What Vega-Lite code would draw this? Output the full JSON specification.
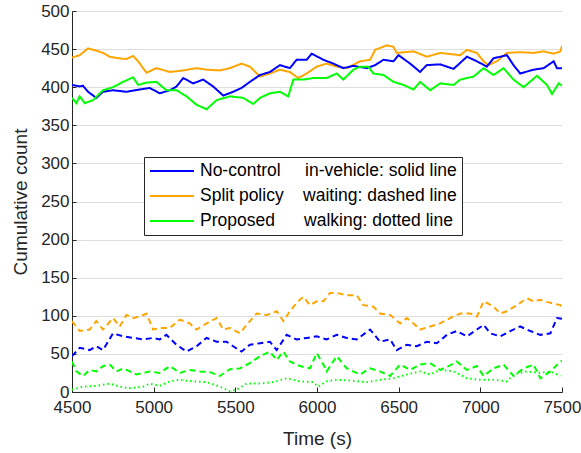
{
  "$schema": "https://vega.github.io/schema/vega-lite/v6.json",
  "autosize": {"type": "none"},
  "padding": {"left": 72, "top": 11, "right": 19, "bottom": 61},
  "width": 490,
  "height": 381,
  "background": "white",
  "config": {"view": {"stroke": null}, "font": "Liberation Sans"},
  "data": {"values": [
    {"t":4500,"v":439,"p":"Split policy","k":"in-vehicle"},{"t":4547,"v":442,"p":"Split policy","k":"in-vehicle"},{"t":4598,"v":451,"p":"Split policy","k":"in-vehicle"},{"t":4649,"v":448,"p":"Split policy","k":"in-vehicle"},{"t":4690,"v":445,"p":"Split policy","k":"in-vehicle"},{"t":4731,"v":440,"p":"Split policy","k":"in-vehicle"},{"t":4782,"v":438,"p":"Split policy","k":"in-vehicle"},{"t":4833,"v":437,"p":"Split policy","k":"in-vehicle"},{"t":4874,"v":441,"p":"Split policy","k":"in-vehicle"},{"t":4905,"v":434,"p":"Split policy","k":"in-vehicle"},{"t":4956,"v":419,"p":"Split policy","k":"in-vehicle"},{"t":5017,"v":425,"p":"Split policy","k":"in-vehicle"},{"t":5099,"v":420,"p":"Split policy","k":"in-vehicle"},{"t":5181,"v":422,"p":"Split policy","k":"in-vehicle"},{"t":5262,"v":425,"p":"Split policy","k":"in-vehicle"},{"t":5324,"v":423,"p":"Split policy","k":"in-vehicle"},{"t":5405,"v":422,"p":"Split policy","k":"in-vehicle"},{"t":5467,"v":425,"p":"Split policy","k":"in-vehicle"},{"t":5538,"v":431,"p":"Split policy","k":"in-vehicle"},{"t":5589,"v":427,"p":"Split policy","k":"in-vehicle"},{"t":5651,"v":414,"p":"Split policy","k":"in-vehicle"},{"t":5712,"v":418,"p":"Split policy","k":"in-vehicle"},{"t":5773,"v":423,"p":"Split policy","k":"in-vehicle"},{"t":5834,"v":420,"p":"Split policy","k":"in-vehicle"},{"t":5885,"v":412,"p":"Split policy","k":"in-vehicle"},{"t":5937,"v":418,"p":"Split policy","k":"in-vehicle"},{"t":5998,"v":427,"p":"Split policy","k":"in-vehicle"},{"t":6059,"v":431,"p":"Split policy","k":"in-vehicle"},{"t":6121,"v":427,"p":"Split policy","k":"in-vehicle"},{"t":6182,"v":425,"p":"Split policy","k":"in-vehicle"},{"t":6264,"v":434,"p":"Split policy","k":"in-vehicle"},{"t":6325,"v":436,"p":"Split policy","k":"in-vehicle"},{"t":6356,"v":449,"p":"Split policy","k":"in-vehicle"},{"t":6427,"v":455,"p":"Split policy","k":"in-vehicle"},{"t":6468,"v":453,"p":"Split policy","k":"in-vehicle"},{"t":6488,"v":445,"p":"Split policy","k":"in-vehicle"},{"t":6591,"v":447,"p":"Split policy","k":"in-vehicle"},{"t":6672,"v":440,"p":"Split policy","k":"in-vehicle"},{"t":6754,"v":445,"p":"Split policy","k":"in-vehicle"},{"t":6877,"v":442,"p":"Split policy","k":"in-vehicle"},{"t":6918,"v":449,"p":"Split policy","k":"in-vehicle"},{"t":6979,"v":445,"p":"Split policy","k":"in-vehicle"},{"t":7020,"v":434,"p":"Split policy","k":"in-vehicle"},{"t":7050,"v":429,"p":"Split policy","k":"in-vehicle"},{"t":7101,"v":434,"p":"Split policy","k":"in-vehicle"},{"t":7163,"v":445,"p":"Split policy","k":"in-vehicle"},{"t":7244,"v":446,"p":"Split policy","k":"in-vehicle"},{"t":7326,"v":445,"p":"Split policy","k":"in-vehicle"},{"t":7388,"v":447,"p":"Split policy","k":"in-vehicle"},{"t":7449,"v":444,"p":"Split policy","k":"in-vehicle"},{"t":7490,"v":447,"p":"Split policy","k":"in-vehicle"},{"t":7500,"v":454,"p":"Split policy","k":"in-vehicle"},

    {"t":4500,"v":403,"p":"No-control","k":"in-vehicle"},{"t":4547,"v":401,"p":"No-control","k":"in-vehicle"},{"t":4567,"v":402,"p":"No-control","k":"in-vehicle"},{"t":4598,"v":394,"p":"No-control","k":"in-vehicle"},{"t":4649,"v":386,"p":"No-control","k":"in-vehicle"},{"t":4690,"v":394,"p":"No-control","k":"in-vehicle"},{"t":4751,"v":396,"p":"No-control","k":"in-vehicle"},{"t":4833,"v":394,"p":"No-control","k":"in-vehicle"},{"t":4915,"v":397,"p":"No-control","k":"in-vehicle"},{"t":4976,"v":399,"p":"No-control","k":"in-vehicle"},{"t":5037,"v":392,"p":"No-control","k":"in-vehicle"},{"t":5099,"v":396,"p":"No-control","k":"in-vehicle"},{"t":5140,"v":401,"p":"No-control","k":"in-vehicle"},{"t":5181,"v":412,"p":"No-control","k":"in-vehicle"},{"t":5242,"v":405,"p":"No-control","k":"in-vehicle"},{"t":5303,"v":410,"p":"No-control","k":"in-vehicle"},{"t":5364,"v":401,"p":"No-control","k":"in-vehicle"},{"t":5426,"v":389,"p":"No-control","k":"in-vehicle"},{"t":5487,"v":394,"p":"No-control","k":"in-vehicle"},{"t":5538,"v":399,"p":"No-control","k":"in-vehicle"},{"t":5589,"v":407,"p":"No-control","k":"in-vehicle"},{"t":5651,"v":416,"p":"No-control","k":"in-vehicle"},{"t":5712,"v":420,"p":"No-control","k":"in-vehicle"},{"t":5773,"v":429,"p":"No-control","k":"in-vehicle"},{"t":5834,"v":425,"p":"No-control","k":"in-vehicle"},{"t":5875,"v":436,"p":"No-control","k":"in-vehicle"},{"t":5937,"v":436,"p":"No-control","k":"in-vehicle"},{"t":5967,"v":444,"p":"No-control","k":"in-vehicle"},{"t":6039,"v":436,"p":"No-control","k":"in-vehicle"},{"t":6100,"v":431,"p":"No-control","k":"in-vehicle"},{"t":6161,"v":425,"p":"No-control","k":"in-vehicle"},{"t":6223,"v":428,"p":"No-control","k":"in-vehicle"},{"t":6305,"v":425,"p":"No-control","k":"in-vehicle"},{"t":6356,"v":429,"p":"No-control","k":"in-vehicle"},{"t":6407,"v":436,"p":"No-control","k":"in-vehicle"},{"t":6468,"v":434,"p":"No-control","k":"in-vehicle"},{"t":6499,"v":442,"p":"No-control","k":"in-vehicle"},{"t":6570,"v":431,"p":"No-control","k":"in-vehicle"},{"t":6631,"v":420,"p":"No-control","k":"in-vehicle"},{"t":6672,"v":429,"p":"No-control","k":"in-vehicle"},{"t":6754,"v":430,"p":"No-control","k":"in-vehicle"},{"t":6836,"v":424,"p":"No-control","k":"in-vehicle"},{"t":6918,"v":440,"p":"No-control","k":"in-vehicle"},{"t":6979,"v":434,"p":"No-control","k":"in-vehicle"},{"t":7040,"v":427,"p":"No-control","k":"in-vehicle"},{"t":7081,"v":438,"p":"No-control","k":"in-vehicle"},{"t":7163,"v":442,"p":"No-control","k":"in-vehicle"},{"t":7203,"v":429,"p":"No-control","k":"in-vehicle"},{"t":7244,"v":418,"p":"No-control","k":"in-vehicle"},{"t":7326,"v":423,"p":"No-control","k":"in-vehicle"},{"t":7388,"v":425,"p":"No-control","k":"in-vehicle"},{"t":7449,"v":434,"p":"No-control","k":"in-vehicle"},{"t":7469,"v":425,"p":"No-control","k":"in-vehicle"},{"t":7500,"v":425,"p":"No-control","k":"in-vehicle"},

    {"t":4500,"v":386,"p":"Proposed","k":"in-vehicle"},{"t":4527,"v":379,"p":"Proposed","k":"in-vehicle"},{"t":4547,"v":388,"p":"Proposed","k":"in-vehicle"},{"t":4578,"v":379,"p":"Proposed","k":"in-vehicle"},{"t":4629,"v":383,"p":"Proposed","k":"in-vehicle"},{"t":4690,"v":396,"p":"Proposed","k":"in-vehicle"},{"t":4751,"v":400,"p":"Proposed","k":"in-vehicle"},{"t":4813,"v":407,"p":"Proposed","k":"in-vehicle"},{"t":4874,"v":413,"p":"Proposed","k":"in-vehicle"},{"t":4905,"v":403,"p":"Proposed","k":"in-vehicle"},{"t":4956,"v":406,"p":"Proposed","k":"in-vehicle"},{"t":5017,"v":407,"p":"Proposed","k":"in-vehicle"},{"t":5078,"v":396,"p":"Proposed","k":"in-vehicle"},{"t":5140,"v":396,"p":"Proposed","k":"in-vehicle"},{"t":5201,"v":388,"p":"Proposed","k":"in-vehicle"},{"t":5262,"v":377,"p":"Proposed","k":"in-vehicle"},{"t":5324,"v":371,"p":"Proposed","k":"in-vehicle"},{"t":5385,"v":383,"p":"Proposed","k":"in-vehicle"},{"t":5467,"v":388,"p":"Proposed","k":"in-vehicle"},{"t":5548,"v":386,"p":"Proposed","k":"in-vehicle"},{"t":5610,"v":378,"p":"Proposed","k":"in-vehicle"},{"t":5651,"v":386,"p":"Proposed","k":"in-vehicle"},{"t":5712,"v":392,"p":"Proposed","k":"in-vehicle"},{"t":5773,"v":394,"p":"Proposed","k":"in-vehicle"},{"t":5824,"v":388,"p":"Proposed","k":"in-vehicle"},{"t":5855,"v":410,"p":"Proposed","k":"in-vehicle"},{"t":5916,"v":410,"p":"Proposed","k":"in-vehicle"},{"t":5977,"v":412,"p":"Proposed","k":"in-vehicle"},{"t":6059,"v":412,"p":"Proposed","k":"in-vehicle"},{"t":6121,"v":418,"p":"Proposed","k":"in-vehicle"},{"t":6161,"v":410,"p":"Proposed","k":"in-vehicle"},{"t":6223,"v":423,"p":"Proposed","k":"in-vehicle"},{"t":6264,"v":427,"p":"Proposed","k":"in-vehicle"},{"t":6315,"v":427,"p":"Proposed","k":"in-vehicle"},{"t":6345,"v":418,"p":"Proposed","k":"in-vehicle"},{"t":6407,"v":416,"p":"Proposed","k":"in-vehicle"},{"t":6468,"v":407,"p":"Proposed","k":"in-vehicle"},{"t":6529,"v":403,"p":"Proposed","k":"in-vehicle"},{"t":6591,"v":397,"p":"Proposed","k":"in-vehicle"},{"t":6631,"v":407,"p":"Proposed","k":"in-vehicle"},{"t":6693,"v":396,"p":"Proposed","k":"in-vehicle"},{"t":6754,"v":405,"p":"Proposed","k":"in-vehicle"},{"t":6836,"v":403,"p":"Proposed","k":"in-vehicle"},{"t":6877,"v":410,"p":"Proposed","k":"in-vehicle"},{"t":6959,"v":414,"p":"Proposed","k":"in-vehicle"},{"t":7020,"v":425,"p":"Proposed","k":"in-vehicle"},{"t":7081,"v":416,"p":"Proposed","k":"in-vehicle"},{"t":7142,"v":425,"p":"Proposed","k":"in-vehicle"},{"t":7203,"v":410,"p":"Proposed","k":"in-vehicle"},{"t":7265,"v":400,"p":"Proposed","k":"in-vehicle"},{"t":7347,"v":415,"p":"Proposed","k":"in-vehicle"},{"t":7408,"v":403,"p":"Proposed","k":"in-vehicle"},{"t":7439,"v":391,"p":"Proposed","k":"in-vehicle"},{"t":7480,"v":405,"p":"Proposed","k":"in-vehicle"},{"t":7500,"v":402,"p":"Proposed","k":"in-vehicle"},

    {"t":4500,"v":93,"p":"Split policy","k":"waiting"},{"t":4547,"v":80,"p":"Split policy","k":"waiting"},{"t":4608,"v":82,"p":"Split policy","k":"waiting"},{"t":4649,"v":93,"p":"Split policy","k":"waiting"},{"t":4690,"v":82,"p":"Split policy","k":"waiting"},{"t":4751,"v":97,"p":"Split policy","k":"waiting"},{"t":4792,"v":86,"p":"Split policy","k":"waiting"},{"t":4833,"v":101,"p":"Split policy","k":"waiting"},{"t":4874,"v":97,"p":"Split policy","k":"waiting"},{"t":4915,"v":99,"p":"Split policy","k":"waiting"},{"t":4956,"v":103,"p":"Split policy","k":"waiting"},{"t":4997,"v":82,"p":"Split policy","k":"waiting"},{"t":5037,"v":84,"p":"Split policy","k":"waiting"},{"t":5099,"v":84,"p":"Split policy","k":"waiting"},{"t":5160,"v":95,"p":"Split policy","k":"waiting"},{"t":5221,"v":90,"p":"Split policy","k":"waiting"},{"t":5262,"v":82,"p":"Split policy","k":"waiting"},{"t":5324,"v":90,"p":"Split policy","k":"waiting"},{"t":5385,"v":97,"p":"Split policy","k":"waiting"},{"t":5426,"v":82,"p":"Split policy","k":"waiting"},{"t":5467,"v":84,"p":"Split policy","k":"waiting"},{"t":5528,"v":77,"p":"Split policy","k":"waiting"},{"t":5569,"v":88,"p":"Split policy","k":"waiting"},{"t":5630,"v":103,"p":"Split policy","k":"waiting"},{"t":5692,"v":101,"p":"Split policy","k":"waiting"},{"t":5753,"v":106,"p":"Split policy","k":"waiting"},{"t":5794,"v":93,"p":"Split policy","k":"waiting"},{"t":5834,"v":106,"p":"Split policy","k":"waiting"},{"t":5875,"v":117,"p":"Split policy","k":"waiting"},{"t":5916,"v":125,"p":"Split policy","k":"waiting"},{"t":5957,"v":114,"p":"Split policy","k":"waiting"},{"t":5998,"v":119,"p":"Split policy","k":"waiting"},{"t":6039,"v":119,"p":"Split policy","k":"waiting"},{"t":6080,"v":130,"p":"Split policy","k":"waiting"},{"t":6121,"v":130,"p":"Split policy","k":"waiting"},{"t":6182,"v":127,"p":"Split policy","k":"waiting"},{"t":6243,"v":127,"p":"Split policy","k":"waiting"},{"t":6284,"v":114,"p":"Split policy","k":"waiting"},{"t":6345,"v":112,"p":"Split policy","k":"waiting"},{"t":6386,"v":103,"p":"Split policy","k":"waiting"},{"t":6448,"v":101,"p":"Split policy","k":"waiting"},{"t":6509,"v":90,"p":"Split policy","k":"waiting"},{"t":6550,"v":97,"p":"Split policy","k":"waiting"},{"t":6591,"v":90,"p":"Split policy","k":"waiting"},{"t":6631,"v":82,"p":"Split policy","k":"waiting"},{"t":6693,"v":86,"p":"Split policy","k":"waiting"},{"t":6754,"v":90,"p":"Split policy","k":"waiting"},{"t":6815,"v":97,"p":"Split policy","k":"waiting"},{"t":6877,"v":103,"p":"Split policy","k":"waiting"},{"t":6938,"v":103,"p":"Split policy","k":"waiting"},{"t":6979,"v":99,"p":"Split policy","k":"waiting"},{"t":7020,"v":119,"p":"Split policy","k":"waiting"},{"t":7081,"v":112,"p":"Split policy","k":"waiting"},{"t":7122,"v":103,"p":"Split policy","k":"waiting"},{"t":7163,"v":106,"p":"Split policy","k":"waiting"},{"t":7224,"v":114,"p":"Split policy","k":"waiting"},{"t":7285,"v":123,"p":"Split policy","k":"waiting"},{"t":7326,"v":119,"p":"Split policy","k":"waiting"},{"t":7367,"v":121,"p":"Split policy","k":"waiting"},{"t":7429,"v":117,"p":"Split policy","k":"waiting"},{"t":7490,"v":114,"p":"Split policy","k":"waiting"},{"t":7500,"v":111,"p":"Split policy","k":"waiting"},

    {"t":4500,"v":47,"p":"No-control","k":"waiting"},{"t":4547,"v":58,"p":"No-control","k":"waiting"},{"t":4608,"v":55,"p":"No-control","k":"waiting"},{"t":4649,"v":60,"p":"No-control","k":"waiting"},{"t":4690,"v":55,"p":"No-control","k":"waiting"},{"t":4751,"v":77,"p":"No-control","k":"waiting"},{"t":4813,"v":73,"p":"No-control","k":"waiting"},{"t":4874,"v":71,"p":"No-control","k":"waiting"},{"t":4935,"v":69,"p":"No-control","k":"waiting"},{"t":4997,"v":71,"p":"No-control","k":"waiting"},{"t":5037,"v":69,"p":"No-control","k":"waiting"},{"t":5078,"v":75,"p":"No-control","k":"waiting"},{"t":5140,"v":62,"p":"No-control","k":"waiting"},{"t":5201,"v":53,"p":"No-control","k":"waiting"},{"t":5262,"v":60,"p":"No-control","k":"waiting"},{"t":5324,"v":71,"p":"No-control","k":"waiting"},{"t":5385,"v":66,"p":"No-control","k":"waiting"},{"t":5446,"v":66,"p":"No-control","k":"waiting"},{"t":5487,"v":60,"p":"No-control","k":"waiting"},{"t":5538,"v":53,"p":"No-control","k":"waiting"},{"t":5589,"v":62,"p":"No-control","k":"waiting"},{"t":5651,"v":64,"p":"No-control","k":"waiting"},{"t":5712,"v":66,"p":"No-control","k":"waiting"},{"t":5753,"v":55,"p":"No-control","k":"waiting"},{"t":5814,"v":75,"p":"No-control","k":"waiting"},{"t":5875,"v":69,"p":"No-control","k":"waiting"},{"t":5937,"v":71,"p":"No-control","k":"waiting"},{"t":5998,"v":73,"p":"No-control","k":"waiting"},{"t":6059,"v":69,"p":"No-control","k":"waiting"},{"t":6121,"v":75,"p":"No-control","k":"waiting"},{"t":6182,"v":71,"p":"No-control","k":"waiting"},{"t":6243,"v":69,"p":"No-control","k":"waiting"},{"t":6325,"v":82,"p":"No-control","k":"waiting"},{"t":6386,"v":66,"p":"No-control","k":"waiting"},{"t":6448,"v":69,"p":"No-control","k":"waiting"},{"t":6488,"v":55,"p":"No-control","k":"waiting"},{"t":6550,"v":62,"p":"No-control","k":"waiting"},{"t":6611,"v":60,"p":"No-control","k":"waiting"},{"t":6672,"v":66,"p":"No-control","k":"waiting"},{"t":6734,"v":64,"p":"No-control","k":"waiting"},{"t":6795,"v":75,"p":"No-control","k":"waiting"},{"t":6856,"v":80,"p":"No-control","k":"waiting"},{"t":6918,"v":73,"p":"No-control","k":"waiting"},{"t":6979,"v":82,"p":"No-control","k":"waiting"},{"t":7020,"v":88,"p":"No-control","k":"waiting"},{"t":7061,"v":77,"p":"No-control","k":"waiting"},{"t":7122,"v":73,"p":"No-control","k":"waiting"},{"t":7183,"v":80,"p":"No-control","k":"waiting"},{"t":7244,"v":86,"p":"No-control","k":"waiting"},{"t":7306,"v":80,"p":"No-control","k":"waiting"},{"t":7367,"v":75,"p":"No-control","k":"waiting"},{"t":7429,"v":77,"p":"No-control","k":"waiting"},{"t":7469,"v":97,"p":"No-control","k":"waiting"},{"t":7500,"v":96,"p":"No-control","k":"waiting"},

    {"t":4500,"v":40,"p":"Proposed","k":"waiting"},{"t":4527,"v":27,"p":"Proposed","k":"waiting"},{"t":4567,"v":21,"p":"Proposed","k":"waiting"},{"t":4608,"v":29,"p":"Proposed","k":"waiting"},{"t":4649,"v":27,"p":"Proposed","k":"waiting"},{"t":4690,"v":34,"p":"Proposed","k":"waiting"},{"t":4731,"v":36,"p":"Proposed","k":"waiting"},{"t":4772,"v":27,"p":"Proposed","k":"waiting"},{"t":4813,"v":31,"p":"Proposed","k":"waiting"},{"t":4854,"v":27,"p":"Proposed","k":"waiting"},{"t":4894,"v":23,"p":"Proposed","k":"waiting"},{"t":4935,"v":25,"p":"Proposed","k":"waiting"},{"t":4976,"v":27,"p":"Proposed","k":"waiting"},{"t":5037,"v":25,"p":"Proposed","k":"waiting"},{"t":5099,"v":34,"p":"Proposed","k":"waiting"},{"t":5160,"v":25,"p":"Proposed","k":"waiting"},{"t":5221,"v":29,"p":"Proposed","k":"waiting"},{"t":5283,"v":27,"p":"Proposed","k":"waiting"},{"t":5344,"v":26,"p":"Proposed","k":"waiting"},{"t":5405,"v":21,"p":"Proposed","k":"waiting"},{"t":5467,"v":30,"p":"Proposed","k":"waiting"},{"t":5528,"v":31,"p":"Proposed","k":"waiting"},{"t":5589,"v":38,"p":"Proposed","k":"waiting"},{"t":5651,"v":47,"p":"Proposed","k":"waiting"},{"t":5712,"v":53,"p":"Proposed","k":"waiting"},{"t":5753,"v":42,"p":"Proposed","k":"waiting"},{"t":5794,"v":53,"p":"Proposed","k":"waiting"},{"t":5834,"v":40,"p":"Proposed","k":"waiting"},{"t":5896,"v":34,"p":"Proposed","k":"waiting"},{"t":5957,"v":31,"p":"Proposed","k":"waiting"},{"t":5998,"v":51,"p":"Proposed","k":"waiting"},{"t":6039,"v":36,"p":"Proposed","k":"waiting"},{"t":6059,"v":27,"p":"Proposed","k":"waiting"},{"t":6121,"v":47,"p":"Proposed","k":"waiting"},{"t":6182,"v":31,"p":"Proposed","k":"waiting"},{"t":6264,"v":23,"p":"Proposed","k":"waiting"},{"t":6325,"v":31,"p":"Proposed","k":"waiting"},{"t":6386,"v":27,"p":"Proposed","k":"waiting"},{"t":6448,"v":21,"p":"Proposed","k":"waiting"},{"t":6509,"v":36,"p":"Proposed","k":"waiting"},{"t":6570,"v":29,"p":"Proposed","k":"waiting"},{"t":6631,"v":36,"p":"Proposed","k":"waiting"},{"t":6693,"v":38,"p":"Proposed","k":"waiting"},{"t":6754,"v":29,"p":"Proposed","k":"waiting"},{"t":6815,"v":35,"p":"Proposed","k":"waiting"},{"t":6856,"v":40,"p":"Proposed","k":"waiting"},{"t":6918,"v":29,"p":"Proposed","k":"waiting"},{"t":6979,"v":34,"p":"Proposed","k":"waiting"},{"t":7020,"v":21,"p":"Proposed","k":"waiting"},{"t":7081,"v":31,"p":"Proposed","k":"waiting"},{"t":7142,"v":36,"p":"Proposed","k":"waiting"},{"t":7203,"v":21,"p":"Proposed","k":"waiting"},{"t":7265,"v":31,"p":"Proposed","k":"waiting"},{"t":7326,"v":36,"p":"Proposed","k":"waiting"},{"t":7367,"v":18,"p":"Proposed","k":"waiting"},{"t":7429,"v":27,"p":"Proposed","k":"waiting"},{"t":7490,"v":40,"p":"Proposed","k":"waiting"},{"t":7500,"v":41,"p":"Proposed","k":"waiting"},

    {"t":4500,"v":3,"p":"Proposed","k":"walking"},{"t":4567,"v":7,"p":"Proposed","k":"walking"},{"t":4649,"v":8,"p":"Proposed","k":"walking"},{"t":4731,"v":11,"p":"Proposed","k":"walking"},{"t":4792,"v":7,"p":"Proposed","k":"walking"},{"t":4854,"v":5,"p":"Proposed","k":"walking"},{"t":4935,"v":7,"p":"Proposed","k":"walking"},{"t":4976,"v":11,"p":"Proposed","k":"walking"},{"t":5037,"v":8,"p":"Proposed","k":"walking"},{"t":5099,"v":14,"p":"Proposed","k":"walking"},{"t":5160,"v":16,"p":"Proposed","k":"walking"},{"t":5242,"v":14,"p":"Proposed","k":"walking"},{"t":5324,"v":13,"p":"Proposed","k":"walking"},{"t":5405,"v":7,"p":"Proposed","k":"walking"},{"t":5467,"v":1,"p":"Proposed","k":"walking"},{"t":5507,"v":3,"p":"Proposed","k":"walking"},{"t":5569,"v":11,"p":"Proposed","k":"walking"},{"t":5651,"v":11,"p":"Proposed","k":"walking"},{"t":5733,"v":13,"p":"Proposed","k":"walking"},{"t":5814,"v":18,"p":"Proposed","k":"walking"},{"t":5896,"v":14,"p":"Proposed","k":"walking"},{"t":5977,"v":13,"p":"Proposed","k":"walking"},{"t":6008,"v":7,"p":"Proposed","k":"walking"},{"t":6059,"v":14,"p":"Proposed","k":"walking"},{"t":6121,"v":16,"p":"Proposed","k":"walking"},{"t":6202,"v":15,"p":"Proposed","k":"walking"},{"t":6305,"v":13,"p":"Proposed","k":"walking"},{"t":6386,"v":16,"p":"Proposed","k":"walking"},{"t":6468,"v":18,"p":"Proposed","k":"walking"},{"t":6550,"v":23,"p":"Proposed","k":"walking"},{"t":6631,"v":27,"p":"Proposed","k":"walking"},{"t":6693,"v":23,"p":"Proposed","k":"walking"},{"t":6754,"v":29,"p":"Proposed","k":"walking"},{"t":6836,"v":27,"p":"Proposed","k":"walking"},{"t":6918,"v":18,"p":"Proposed","k":"walking"},{"t":6999,"v":16,"p":"Proposed","k":"walking"},{"t":7081,"v":16,"p":"Proposed","k":"walking"},{"t":7163,"v":14,"p":"Proposed","k":"walking"},{"t":7203,"v":23,"p":"Proposed","k":"walking"},{"t":7285,"v":27,"p":"Proposed","k":"walking"},{"t":7367,"v":25,"p":"Proposed","k":"walking"},{"t":7429,"v":27,"p":"Proposed","k":"walking"},{"t":7490,"v":21,"p":"Proposed","k":"walking"}
  ]},
  "mark": {"type": "line", "strokeWidth": 2, "clip": true},
  "encoding": {
    "x": {
      "field": "t", "type": "quantitative",
      "scale": {"domain": [4500, 7500], "nice": false, "zero": false},
      "axis": {
        "title": "Time (s)", "values": [4500, 5000, 5500, 6000, 6500, 7000, 7500],
        "grid": false, "labelFontSize": 17, "titleFontSize": 19, "titleFontWeight": "normal",
        "labelColor": "#262626", "titleColor": "#262626", "domainColor": "#262626", "tickColor": "#262626",
        "tickSize": -5, "labelPadding": 12, "titlePadding": 14, "labelFlush": false, "format": "d"
      }
    },
    "y": {
      "field": "v", "type": "quantitative",
      "scale": {"domain": [0, 500], "nice": false},
      "axis": {
        "title": "Cumulative count", "values": [0, 50, 100, 150, 200, 250, 300, 350, 400, 450, 500],
        "grid": true, "gridColor": "#dedede", "labelFontSize": 17, "titleFontSize": 19, "titleFontWeight": "normal",
        "labelColor": "#262626", "titleColor": "#262626", "domainColor": "#262626", "tickColor": "#262626",
        "tickSize": -4, "labelPadding": 7, "titlePadding": 10, "labelFlush": false, "format": "d"
      }
    },
    "color": {
      "field": "p", "type": "nominal",
      "scale": {"domain": ["No-control", "Split policy", "Proposed"], "range": ["#0000ff", "#ffa500", "#00ff00"]},
      "legend": {
        "title": null, "orient": "none", "legendX": 72, "legendY": 146,
        "symbolType": "M-1,0H4.5", "symbolSize": 256, "symbolStrokeWidth": 2,
        "labelFontSize": 17.5, "labelColor": "#000000", "labelLimit": 400, "labelOffset": 33,
        "strokeColor": "#262626", "fillColor": "white", "padding": 5, "rowPadding": 7,
        "labelExpr": "datum.label == 'No-control' ? 'No-control\u00a0\u00a0\u00a0\u00a0\u00a0in-vehicle: solid line' : datum.label == 'Split policy' ? 'Split policy\u00a0\u00a0\u00a0\u00a0waiting: dashed line' : 'Proposed\u00a0\u00a0\u00a0\u00a0\u00a0\u00a0walking: dotted line'"
      }
    },
    "strokeDash": {
      "field": "k", "type": "nominal",
      "scale": {"domain": ["in-vehicle", "waiting", "walking"], "range": [[1, 0], [6, 4], [1.5, 3]]},
      "legend": null
    }
  }
}
